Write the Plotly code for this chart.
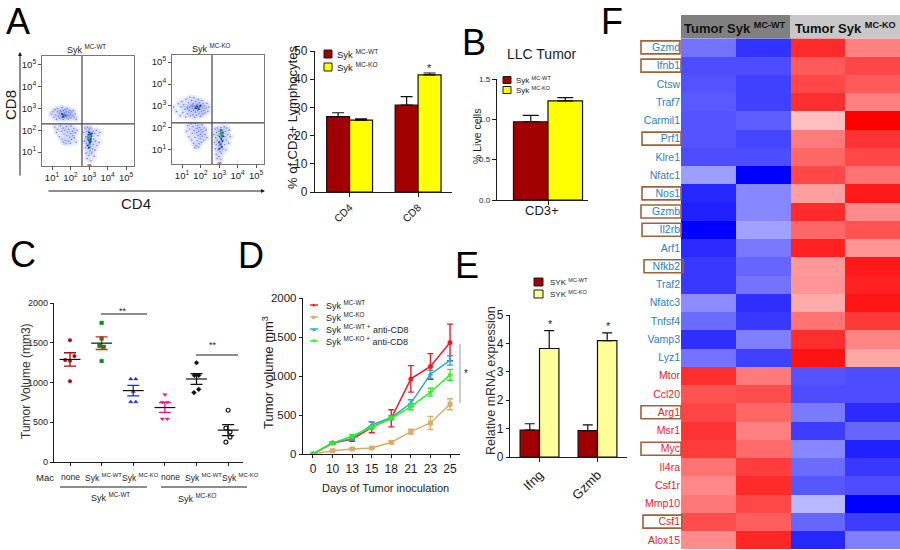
import plotly.graph_objects as go

W, H = 900, 550
FONT = "Liberation Sans"
DARK = "#1c1c1c"

# ---------- data ----------
WT_RED, KO_YEL, KO_PALE = "#a00000", "#ffff00", "#ffff99"

# A flow cytometry: (log10 CD4, log10 CD8)
flow_wt = [(0.95,2.75),(1.05,2.85),(1.1,2.6),(1.15,2.95),(1.2,2.7),(1.25,2.5),(1.3,2.85),(1.3,3.0),(1.35,2.65),(1.4,2.78),
 (1.42,2.55),(1.45,2.92),(1.5,2.7),(1.5,2.85),(1.52,2.6),(1.55,3.05),(1.58,2.75),(1.6,2.5),(1.62,2.9),(1.65,2.68),
 (1.68,2.8),(1.7,2.58),(1.72,2.95),(1.75,2.72),(1.78,2.85),(1.8,2.62),(1.82,3.0),(1.85,2.7),(1.88,2.52),(1.9,2.82),
 (1.92,2.66),(1.95,2.92),(2.0,2.74),(2.02,2.56),(2.05,2.84),(2.1,2.68),(2.15,2.9),(2.2,2.6),(2.25,2.75),(2.3,2.5),
 (1.15,2.15),(1.25,1.9),(1.3,2.05),(1.4,1.7),(1.45,2.2),(1.5,1.95),(1.55,1.6),(1.6,2.1),(1.65,1.82),(1.7,2.0),
 (1.72,1.55),(1.78,2.18),(1.8,1.75),(1.85,1.92),(1.88,1.5),(1.9,2.05),(1.95,1.68),(2.0,1.85),(2.02,2.2),(2.05,1.58),
 (2.1,1.95),(2.12,1.75),(2.18,2.08),(2.2,1.65),(2.25,1.88),(2.3,1.45),(2.35,2.0),(1.6,1.45),(1.75,1.38),(2.0,1.4),
 (2.72,1.9),(2.75,1.5),(2.78,2.1),(2.8,1.2),(2.82,1.7),(2.85,0.95),(2.85,1.4),(2.88,1.95),(2.9,0.7),(2.9,1.6),
 (2.92,2.15),(2.95,1.15),(2.95,1.8),(2.98,1.35),(3.0,2.05),(3.0,0.85),(3.02,1.55),(3.05,1.05),(3.05,1.9),(3.08,1.25),
 (3.1,0.6),(3.1,2.1),(3.12,1.45),(3.15,0.95),(3.15,1.75),(3.18,1.15),(3.2,1.95),(3.22,1.35),(3.25,1.6),(3.28,0.8),
 (3.3,1.85),(3.32,1.1),(3.35,1.5),(3.4,2.0),(3.42,1.3),(3.48,1.75),(3.55,1.45),(3.6,1.9),(2.95,1.62),(3.0,1.48)]
flow_wt_core = [(1.55,2.74),(1.65,2.7),(1.72,2.68),(1.6,2.62),(2.98,1.78),(3.02,1.68),(3.06,1.82),(3.1,1.6),(2.98,1.55),
 (3.04,1.42),(3.0,1.9),(3.12,1.72),(2.92,1.3),(3.0,1.2),(3.08,1.5),(2.95,1.7),(3.15,1.85),(3.05,1.6)]
flow_wt_hot = [(2.97,1.72),(3.05,1.75),(3.0,1.62),(3.02,1.35),(1.68,2.72)]

flow_ko = [(0.55,2.95),(0.7,2.75),(0.8,3.1),(0.9,2.55),(0.95,2.95),(1.0,3.2),(1.05,2.7),(1.1,3.05),(1.15,2.85),(1.2,2.5),
 (1.22,3.3),(1.28,2.95),(1.3,2.65),(1.35,3.15),(1.38,2.8),(1.42,3.4),(1.45,2.55),(1.48,3.0),(1.5,2.75),(1.52,3.25),
 (1.55,2.9),(1.58,2.6),(1.6,3.1),(1.62,2.8),(1.65,3.38),(1.68,2.48),(1.7,3.0),(1.72,2.72),(1.75,3.2),(1.78,2.88),
 (1.8,2.58),(1.82,3.08),(1.85,2.78),(1.88,3.3),(1.9,2.95),(1.92,2.66),(1.95,3.15),(1.98,2.84),(2.0,2.52),(2.02,3.02),
 (2.05,2.74),(2.08,3.25),(2.1,2.92),(2.12,2.62),(2.15,3.1),(2.18,2.8),(2.2,3.0),(2.25,2.68),(2.3,2.9),(2.35,3.12),
 (2.4,2.75),(2.45,2.95),(1.4,2.95),(1.55,3.05),(1.7,2.9),(1.3,2.88),(1.6,2.98),(1.85,3.02),
 (1.25,1.85),(1.3,2.1),(1.38,1.6),(1.42,1.95),(1.48,2.18),(1.52,1.45),(1.55,1.75),(1.6,2.05),(1.62,1.3),(1.65,1.88),
 (1.7,1.58),(1.72,2.2),(1.75,1.2),(1.78,1.78),(1.8,1.98),(1.82,1.42),(1.85,2.12),(1.88,1.65),(1.9,1.85),(1.92,1.28),
 (1.95,2.02),(1.98,1.52),(2.0,1.72),(2.02,1.92),(2.05,1.35),(2.08,2.15),(2.1,1.62),(2.12,1.82),(2.18,1.45),(2.2,2.0),
 (2.25,1.7),(2.3,1.9),(2.35,1.55),(1.7,1.1),(1.9,1.12),
 (2.72,1.7),(2.75,1.35),(2.78,1.95),(2.8,1.05),(2.82,1.55),(2.85,0.8),(2.85,1.25),(2.88,1.8),(2.9,0.6),(2.9,1.45),
 (2.92,2.0),(2.95,1.0),(2.95,1.65),(2.98,1.2),(3.0,1.85),(3.0,0.7),(3.02,1.4),(3.05,0.92),(3.05,1.72),(3.08,1.1),
 (3.1,0.55),(3.1,2.02),(3.12,1.3),(3.15,0.85),(3.15,1.6),(3.18,1.9),(3.2,1.05),(3.22,1.45),(3.25,1.75),(3.28,2.05),
 (3.3,1.25),(3.32,1.6),(3.35,1.85),(3.38,1.0),(3.4,1.45),(3.42,2.0),(3.48,1.7),(3.52,1.3),(3.55,1.9),(3.62,1.6)]
flow_ko_core = [(1.8,2.98),(1.88,2.92),(1.95,2.98),(1.75,2.9),(2.0,3.02),(1.9,2.86),(3.1,1.75),(3.15,1.65),(3.2,1.8),(3.12,1.5),
 (3.05,1.6),(3.18,1.4),(3.08,1.25),(3.0,1.35),(3.22,1.62),(3.1,1.9),(3.02,1.05),(3.15,1.15)]
flow_ko_hot = [(3.12,1.7),(3.18,1.72),(3.1,1.6),(3.15,1.85),(1.9,2.96),(3.05,1.3)]
flow_floor = [(2.95,0.4),(3.02,0.4),(3.1,0.4)]

# A bars
a_groups = ["CD4", "CD8"]
a_wt, a_wt_err = [26.7, 30.8], [1.4, 3.0]
a_ko, a_ko_err = [25.5, 41.5], [0.4, 0.7]
# B bars
b_groups = ["CD3+"]
b_wt, b_wt_err = [0.97], [0.08]
b_ko, b_ko_err = [1.23], [0.04]
# E bars
e_groups = ["Ifng", "Gzmb"]
e_wt, e_wt_err = [0.95, 0.93], [0.22, 0.2]
e_ko, e_ko_err = [3.82, 4.1], [0.63, 0.27]

# C scatter
c_labels = ["none", "Syk <sup>MC-WT</sup>", "Syk <sup>MC-KO</sup>", "none", "Syk <sup>MC-WT</sup>", "Syk <sup>MC-KO</sup>"]
c_vals = [[1532, 1332, 1282, 1273, 1015], [1750, 1553, 1461, 1449, 1270], [1044, 1044, 885, 756, 756],
          [848, 752, 752, 543, 543], [1248, 1090, 1090, 914, 873], [651, 426, 376, 313, 250]]
c_jit = [[0, .14, -.15, 0, 0], [0, 0, -.07, .07, 0], [-.08, .08, 0, -.08, .08],
         [0, -.08, .08, -.08, .08], [0, -.07, .07, .07, -.08], [0, -.07, .06, .06, -.07]]
c_mean = [1290, 1495, 898, 685, 1044, 401]
c_err = [84, 80, 65, 62, 68, 69]
c_pt_col = ["#a01010", "#0a8a1e", "#1a2fc0", "#f0148c", "#111111", "#111111"]
c_err_col = ["#a01010", "#dd2020", "#1a2fc0", "#f0148c", "#111111", "#111111"]
c_sym = ["circle", "square", "triangle-up", "triangle-down", "diamond", "circle-open"]

# D lines
d_days = ["0", "10", "13", "15", "18", "21", "23", "25"]
d_names = ["Syk <sup>MC-WT</sup>", "Syk <sup>MC-KO</sup>", "Syk <sup>MC-WT +</sup> anti-CD8", "Syk <sup>MC-KO +</sup> anti-CD8"]
d_red = [0, 140, 188, 342, 458, 963, 1122, 1430]
d_red_e = [0, 10, 25, 70, 110, 170, 165, 235]
d_tan = [0, 42, 65, 77, 150, 287, 398, 638]
d_tan_e = [0, 5, 8, 8, 15, 30, 85, 70]
d_blu = [0, 140, 200, 372, 470, 650, 1023, 1200]
d_blu_e = [0, 10, 20, 40, 25, 45, 50, 60]
d_grn = [0, 140, 231, 342, 458, 608, 792, 1015]
d_grn_e = [0, 10, 20, 20, 20, 40, 50, 70]
d_col = ["#ee1c25", "#d8ad68", "#2fa8c8", "#2cf02a"]
d_sym = ["circle", "square", "triangle-up", "triangle-down"]

# F heat map
f_genes = ["Gzmd","Ifnb1","Ctsw","Traf7","Carmil1","Prf1","Klre1","Nfatc1","Nos1","Gzmb","Il2rb","Arf1","Nfkb2","Traf2",
           "Nfatc3","Tnfsf4","Vamp3","Lyz1","Mtor","Ccl20","Arg1","Msr1","Myc","Il4ra","Csf1r","Mmp10","Csf1","Alox15"]
f_z = [[-.55,-.8,.83,.5],[-.7,-.7,.65,.72],[-.68,-.75,.72,.65],[-.65,-.75,.82,.5],[-.67,-.63,.25,1.0],[-.67,-.73,.52,.8],
       [-.7,-.7,.6,.72],[-.38,-1,.72,.55],[-.85,-.47,.38,.9],[-.88,-.47,.83,.45],[-1,-.37,.6,.68],[-.83,-.53,.87,.42],
       [-.78,-.6,.4,.9],[-.78,-.55,.42,.87],[-.45,-.82,.33,.92],[-.58,-.78,.55,.78],[-.82,-.5,.82,.48],[-.55,-.75,.93,.35],
       [.82,.52,-.67,-.7],[.68,.7,-.7,-.7],[.73,.6,-.52,-.83],[.8,.5,-.76,-.6],[.77,.58,-.47,-.87],[.55,.76,-.58,-.78],
       [.47,.83,-.66,-.7],[.53,.72,-.28,-1],[.7,.63,-.6,-.76],[.45,.85,-.85,-.5]]
f_cols = ["WT 1", "WT 2", "KO 1", "KO 2"]
f_boxed = {"Gzmd":(641,680),"Ifnb1":(641,681),"Prf1":(642,681),"Nos1":(642,681),"Gzmb":(641,681),"Il2rb":(642,681),
           "Nfkb2":(644,683),"Arg1":(641,681),"Myc":(641,681),"Csf1":(643,682)}

# ---------- helpers ----------
fig = go.Figure()
layout = dict(width=W, height=H, margin=dict(l=0, r=0, t=0, b=0, autoexpand=False), paper_bgcolor="white", plot_bgcolor="white",
              showlegend=False, barmode="group", bargap=0.33, bargroupgap=0,
              font=dict(family=FONT, color=DARK), hovermode=False)
annots, shapes = [], []

def px(x): return x / W
def py(y): return 1 - y / H

def axes(i, x0, x1, y0, y1, xopts, yopts):
    """y0 = top pixel, y1 = bottom pixel"""
    base = dict(showgrid=False, zeroline=False, showline=True, linecolor=DARK, linewidth=1.4, automargin=False,
                ticks="outside", ticklen=4, tickwidth=1.2, tickcolor=DARK)
    s = "" if i == 1 else str(i)
    layout["xaxis" + s] = {**base, "domain": [px(x0), px(x1)], "anchor": "y" + s, **xopts}
    layout["yaxis" + s] = {**base, "domain": [py(y1), py(y0)], "anchor": "x" + s, **yopts}
    return ("x" + s, "y" + s)

def text(x, y, s, size=10, color=DARK, rot=0, anchor="center", family=FONT):
    annots.append(dict(x=px(x), y=py(y), xref="paper", yref="paper", text=s, showarrow=False, textangle=rot,
                       xanchor=anchor, yanchor="middle", font=dict(size=size, color=color, family=family)))

def line(x0, y0, x1, y1, color=DARK, w=1.2):
    shapes.append(dict(type="line", xref="paper", yref="paper", x0=px(x0), y0=py(y0), x1=px(x1), y1=py(y1),
                       line=dict(color=color, width=w)))

def rect(x0, y0, x1, y1, fill=None, color=DARK, w=1.0):
    shapes.append(dict(type="rect", xref="paper", yref="paper", x0=px(x0), y0=py(y0), x1=px(x1), y1=py(y1),
                       fillcolor=fill or "rgba(0,0,0,0)", line=dict(color=color, width=w)))

def arrow(x0, y0, x1, y1):
    annots.append(dict(x=px(x1), y=py(y1), ax=x0 - x1, ay=y0 - y1, xref="paper", yref="paper", axref="pixel", ayref="pixel",
                       text="", showarrow=True, arrowhead=2, arrowsize=0.8, arrowwidth=1, arrowcolor=DARK))

def bars(xa, ya, cats, vals, errs, color, name, cap):
    fig.add_bar(x=cats, y=vals, name=name, xaxis=xa, yaxis=ya, marker=dict(color=color, line=dict(color="#111", width=1.2)),
                error_y=dict(type="data", symmetric=False, array=errs, arrayminus=[0]*len(errs), color="#111", thickness=1.2, width=cap))

def flow(i, x0, x1, y0, y1, xr, yr, gx, gy, pts, core, hot):
    xa, ya = axes(i, x0, x1, y0, y1,
        dict(range=xr, tickvals=[1,2,3,4,5], ticktext=[f"10<sup>{k}</sup>" for k in range(1,6)], tickfont=dict(size=9.5),
             linecolor="#777", mirror=True, linewidth=1, ticklen=3, tickcolor="#555"),
        dict(range=yr, tickvals=[1,2,3,4,5], ticktext=[f"10<sup>{k}</sup>" for k in range(1,6)], tickfont=dict(size=9.5),
             linecolor="#777", mirror=True, linewidth=1, ticklen=3, tickcolor="#555"))
    # soft halo of the same dots, then the dots themselves
    fig.add_scatter(x=[p[0] for p in pts], y=[p[1] for p in pts], mode="markers", xaxis=xa, yaxis=ya,
                    marker=dict(size=6, color="#9aa8f0", opacity=0.22, line=dict(width=0)))
    for data, col, sz in ((pts, "#6f80e4", 1.6), (core, "#2438c8", 2.2), (hot, "#3fb950", 2.4), (flow_floor, "#d04020", 1.6)):
        fig.add_scatter(x=[p[0] for p in data], y=[p[1] for p in data], mode="markers", xaxis=xa, yaxis=ya,
                        marker=dict(size=sz, color=col, line=dict(width=0)))
    fig.add_scatter(x=[gx, gx], y=yr, mode="lines", xaxis=xa, yaxis=ya, line=dict(color="#444", width=1.2))
    fig.add_scatter(x=xr, y=[gy, gy], mode="lines", xaxis=xa, yaxis=ya, line=dict(color="#444", width=1.2))

# ---------- panel A ----------
flow(1, 42, 134, 56, 166, [0.46, 5.43], [0.36, 5.41], 2.62, 2.29, flow_wt, flow_wt_core, flow_wt_hot)
flow(2, 172, 264, 55, 164, [0.46, 5.43], [0.36, 5.32], 2.62, 2.23, flow_ko, flow_ko_core, flow_ko_hot)
text(86, 49, "Syk <sup>MC-WT</sup>", 9)
text(211, 48, "Syk <sup>MC-KO</sup>", 9)
text(10, 105, "CD8", 15, rot=-90)
text(136, 203, "CD4", 15)
arrow(20, 177, 20, 52)
arrow(47, 191, 265, 191)

xa, ya = axes(3, 315, 452, 51, 192,
    dict(type="category", range=[-0.505, 1.495], tickangle=-45, tickfont=dict(size=10.5)),
    dict(range=[0, 50], tickvals=[0,10,20,30,40,50], tickfont=dict(size=12)))
bars(xa, ya, a_groups, a_wt, a_wt_err, WT_RED, "Syk MC-WT", 6)
bars(xa, ya, a_groups, a_ko, a_ko_err, KO_YEL, "Syk MC-KO", 6)
text(292, 118, "% of CD3+ Lymphocytes", 13, rot=-90)
for y, c, lab in ((54, WT_RED, "Syk <sup>MC-WT</sup>"), (67, KO_YEL, "Syk <sup>MC-KO</sup>")):
    rect(324, y-4, 332, y+4, c)
    text(335, y, lab, 9.5, anchor="left")
text(429, 68, "*", 11)

# ---------- panel B ----------
xa, ya = axes(4, 497, 588, 79, 200,
    dict(type="category", range=[-0.495, 0.388], showticklabels=False),
    dict(range=[0, 1.5], tickvals=[0, .5, 1, 1.5], tickformat=".1f", tickfont=dict(size=8)))
bars(xa, ya, b_groups, b_wt, b_wt_err, WT_RED, "Syk MC-WT", 8)
bars(xa, ya, b_groups, b_ko, b_ko_err, KO_YEL, "Syk MC-KO", 8)
text(542, 54, "LLC Tumor", 14)
text(542, 211, "CD3+", 13)
text(477, 137, "% Live cells", 10.5, rot=-90)
for y, c, lab in ((80, WT_RED, "Syk <sup>MC-WT</sup>"), (90, KO_YEL, "Syk <sup>MC-KO</sup>")):
    rect(503, y-3.5, 511, y+3.5, c)
    text(514, y, lab, 8, anchor="left")

# ---------- panel C ----------
xa, ya = axes(5, 54, 243, 303, 462,
    dict(range=[-0.506, 5.47], tickvals=list(range(6)), showticklabels=False, ticklen=3),
    dict(range=[0, 2000], tickvals=[0,500,1000,1500,2000], tickfont=dict(size=9), ticklen=3))
for i in range(6):
    open_marker = c_sym[i].endswith("open")
    fig.add_scatter(x=[i + j for j in c_jit[i]], y=c_vals[i], mode="markers", xaxis=xa, yaxis=ya,
                    marker=dict(size=4 if open_marker else 3.6, color=c_pt_col[i], symbol=c_sym[i],
                                line=dict(width=1.2 if open_marker else 0.5, color=c_pt_col[i])))
    fig.add_scatter(x=[i], y=[c_mean[i]], mode="markers", xaxis=xa, yaxis=ya, marker=dict(size=1, color="rgba(0,0,0,0)"),
                    error_y=dict(type="data", array=[c_err[i]], color=c_err_col[i], thickness=1.3, width=6))
    fig.add_scatter(x=[i], y=[c_mean[i]], mode="markers", xaxis=xa, yaxis=ya, marker=dict(size=1, color="rgba(0,0,0,0)"),
                    error_x=dict(type="constant", value=0.33, color="#111", thickness=1.2, width=0))
text(26, 381, "Tumor Volume (mm3)", 12, color="#333", rot=-90)
text(45, 477, "Mac", 9.5)
for x, lab in zip((70, 103, 140, 170, 203, 240), c_labels):
    text(x, 477, lab, 8.5)
line(60, 487, 147, 487); line(161, 487, 247, 487)
text(110, 497, "Syk <sup>MC-WT</sup>", 9); text(197, 498, "Syk <sup>MC-KO</sup>", 9)
line(101, 314, 147, 314); text(123, 311, "**", 9)
line(196, 355, 238, 355); text(213, 345, "**", 9)

# ---------- panel D ----------
xa, ya = axes(6, 303, 460, 298, 454,
    dict(type="category", range=[-0.51, 7.51], tickfont=dict(size=12), ticklen=3),
    dict(range=[0, 2000], tickvals=[0,500,1000,1500,2000], tickfont=dict(size=11.5), ticklen=3))
for n, v, e, c, s in zip(d_names, (d_red, d_tan, d_blu, d_grn), (d_red_e, d_tan_e, d_blu_e, d_grn_e), d_col, d_sym):
    fig.add_scatter(x=d_days, y=v, mode="lines+markers", name=n, xaxis=xa, yaxis=ya, line=dict(color=c, width=1.5),
                    marker=dict(size=5, color=c, symbol=s), error_y=dict(type="data", array=e, color=c, thickness=1.4, width=3))
text(268, 373, "Tumor volume mm<sup>3</sup>", 13, rot=-90)
text(385, 488, "Days of Tumor inoculation", 11)
for y, n, c, s in zip((305, 317, 329, 341), d_names, d_col, ("●", "■", "▲", "▼")):
    line(310, y, 318, y, c, 1.4)
    text(314, y, s, 6, color=c)
    text(324, y, n, 9, anchor="left")
line(460, 344, 460, 403, "#aaa", 1.2)
text(466, 373, "*", 10)

# ---------- panel E ----------
xa, ya = axes(7, 510, 627, 315, 457,
    dict(type="category", range=[-0.509, 1.509], tickangle=-45, tickfont=dict(size=13)),
    dict(range=[0, 5], tickvals=[0,1,2,3,4,5], tickfont=dict(size=12), ticklen=3))
bars(xa, ya, e_groups, e_wt, e_wt_err, WT_RED, "SYK MC-WT", 5)
bars(xa, ya, e_groups, e_ko, e_ko_err, KO_PALE, "SYK MC-KO", 5)
text(491, 381, "Relative mRNA expression", 12.5, color="#333", rot=-90)
for y, c, lab in ((282, WT_RED, "SYK <sup>MC-WT</sup>"), (294, KO_PALE, "SYK <sup>MC-KO</sup>")):
    rect(534, y-4, 543, y+4, c)
    text(548, y, lab, 8, anchor="left")
text(550, 324, "*", 11); text(608, 326, "*", 11)

# ---------- panel F ----------
xa, ya = axes(8, 681, 900, 38.3, 549,
    dict(type="category", showline=False, ticks="", showticklabels=False),
    dict(type="category", autorange="reversed", showline=False, ticks="", tickvals=f_genes,
         ticktext=[f'<span style="color:{"#2b80c4" if i < 18 else "#e8222c"}">{g}</span>' for i, g in enumerate(f_genes)],
         tickfont=dict(size=10.5), ticklen=0))
fig.add_heatmap(x=f_cols, y=f_genes, z=f_z, xaxis=xa, yaxis=ya, zmin=-1, zmax=1, showscale=False,
                colorscale=[[0, "#0000ff"], [0.5, "#ffffff"], [1, "#ff0000"]])
rect(681, 15, 790, 38.3, "#808080", "#808080", 0)
rect(790, 15, 900, 38.3, "#c8c8c8", "#c8c8c8", 0)
text(735, 28, "<b>Tumor Syk <sup>MC-WT</sup></b>", 13, color="#111")
text(845, 28, "<b>Tumor Syk <sup>MC-KO</sup></b>", 13, color="#111")
row_h = (549 - 38.3) / len(f_genes)
for g, (a, b) in f_boxed.items():
    yc = 38.3 + (f_genes.index(g) + 0.5) * row_h
    rect(a, yc - 6.5, b, yc + 6.5, None, "#a0623a", 1.6)

# ---------- panel letters ----------
for s, x, y in (("A", 18, 21), ("B", 474, 42), ("C", 23, 254), ("D", 251, 255), ("E", 467, 265), ("F", 612, 21)):
    text(x, y, s, 36, color="#000")

layout["annotations"] = annots
layout["shapes"] = shapes
fig.update_layout(**layout)
fig.write_html("out.html", config=dict(displayModeBar=False),
               post_script="document.body.style.margin='0';")
